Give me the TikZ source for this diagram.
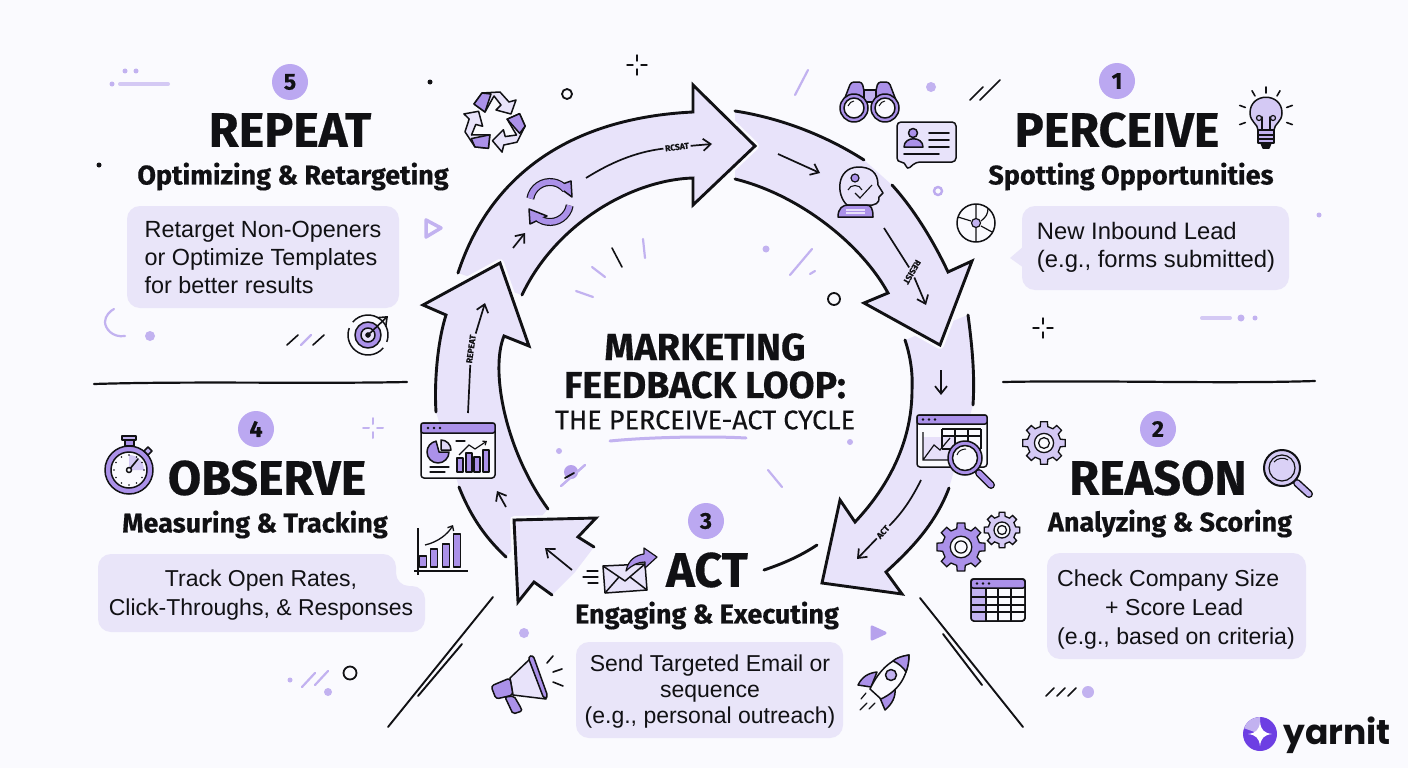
\documentclass[tikz,border=0pt]{standalone}
\usepackage{fontspec}
\setmainfont{Liberation Sans}
\newfontfamily\headfont{Fira Sans}[BoldFeatures={FakeBold=0.4}]
\newfontfamily\midfont{Fira Sans}[FakeBold=0.2]
\newfontfamily\logofont{Poppins}
\usetikzlibrary{arrows.meta}
\definecolor{bgpaper}{HTML}{FAFAFE}
\definecolor{bandlilac}{HTML}{E8E3FA}
\definecolor{boxlilac}{HTML}{E9E5F9}
\definecolor{numpurple}{HTML}{BBA8F1}
\definecolor{softpurple}{HTML}{C2B2F0}
\definecolor{iconpurple}{HTML}{AB91E9}
\definecolor{inkblack}{HTML}{111114}
\definecolor{logopurple}{HTML}{6D3FE3}
\begin{document}
\begin{tikzpicture}[x=1pt,y=-1pt,>={Straight Barb[length=7.5pt,width=12pt]},
numdot/.style={circle,fill=numpurple,text=inkblack,minimum size=36pt,inner sep=0pt,font=\headfont\bfseries\fontsize{23}{23}\selectfont},
titletxt/.style={inner sep=0pt,text=inkblack,font=\headfont\bfseries\fontsize{48.5}{48.5}\selectfont},
subtxt/.style={inner sep=0pt,text=inkblack,font=\headfont\bfseries\fontsize{27}{27}\selectfont},
boxnode/.style={fill=boxlilac,rounded corners=13pt,inner sep=0pt,text=inkblack,font=\fontsize{23.4}{28}\selectfont},
boxtxt/.style={inner sep=0pt,text=inkblack,font=\fontsize{23.1}{29}\selectfont},
looplbl/.style={inner sep=1.5pt,text=inkblack,font=\headfont\bfseries\fontsize{8.5}{8.5}\selectfont},
loopline/.style={draw=inkblack,line width=2.9pt,line cap=round,line join=miter},
thinarrow/.style={draw=inkblack,line width=1.7pt},
halo/.style={draw=bgpaper,line width=8pt,line join=round},
icon/.style={draw=inkblack,line width=1.5pt,line join=round},
softline/.style={draw=softpurple,line width=2.2pt,line cap=round},
inkline/.style={draw=inkblack,line width=1.6pt,line cap=round},
gearicon/.pic={
\filldraw[pic actions] (-13:14pt) \foreach \a in {0,45,...,315}{-- (\a-13:14pt) -- (\a-9:18pt) -- (\a+9:18pt) -- (\a+13:14pt)} -- cycle;
\filldraw[draw=inkblack,line width=1.3pt,fill=bgpaper] (0,0) circle (8pt);
\draw[inkblack,line width=1.3pt] (0,0) circle (4.5pt);
},
sparkle/.pic={
\foreach \a in {0,90,180,270} \draw[pic actions,line cap=round] (\a:4pt) -- (\a:10pt);
}]
\useasboundingbox (0,0) rectangle (1408,768);
\fill[bgpaper] (0,0) rectangle (1408,768);

\fill[bandlilac] (968,315) .. controls (972,345) and (975,375) .. (973,405) -- (949,488) .. controls (935,525) and (910,550) .. (886,572) -- (902,594) -- (822,583) -- (840,500) -- (855,522) .. controls (890,485) and (912,440) .. (912,390) .. controls (913,372) and (910,355) .. (905,340) -- cycle;
\draw[loopline] (968,315) .. controls (972,345) and (975,375) .. (973,405);
\draw[loopline] (949,488) .. controls (935,525) and (910,550) .. (886,572) -- (902,594) -- (822,583) -- (840,500) -- (855,522) .. controls (890,485) and (912,440) .. (912,390) .. controls (913,372) and (910,355) .. (905,340);

\draw[halo] (948,272) -- (972,261) -- (940,345) -- (864,303) -- (888,293);
\fill[bandlilac] (735,111) .. controls (780,118) and (825,135) .. (864,160) -- (892,185) .. controls (913,208) and (933,240) .. (948,272) -- (972,261) -- (940,345) -- (864,303) -- (888,293) .. controls (862,245) and (800,195) .. (735,179) -- cycle;
\draw[loopline] (735,111) .. controls (780,118) and (825,135) .. (864,160);
\draw[loopline] (892,185) .. controls (913,208) and (933,240) .. (948,272) -- (972,261) -- (940,345) -- (864,303) -- (888,293) .. controls (862,245) and (800,195) .. (735,179);

\draw[halo] (693,85) -- (755,146) -- (693,205) -- cycle;
\fill[bandlilac] (458,273) .. controls (490,175) and (570,118) .. (693,112) -- (693,85) -- (755,146) -- (693,205) -- (693,178) .. controls (630,180) and (555,225) .. (522,295) -- cycle;
\draw[loopline] (458,273) .. controls (490,175) and (570,118) .. (693,112) -- (693,85) -- (755,146) -- (693,205) -- (693,178) .. controls (630,180) and (555,225) .. (522,295);

\draw[halo] (446,315) -- (423,305) -- (500,263) -- (529,346) -- (504,336);
\fill[bandlilac] (446,315) .. controls (438,340) and (434,380) .. (436,412) -- (459,487) .. controls (472,520) and (488,540) .. (506,557) -- (548,509) .. controls (505,450) and (490,370) .. (504,336) -- (529,346) -- (500,263) -- (423,305) -- cycle;
\draw[loopline] (459,487) .. controls (472,520) and (488,540) .. (506,557);
\draw[loopline] (436,412) .. controls (434,380) and (438,340) .. (446,315) -- (423,305) -- (500,263) -- (529,346) -- (504,336) .. controls (490,370) and (505,450) .. (548,509);

\draw[halo] (594,547) -- (578,537) -- (596,518) -- (514,520) -- (518,602) -- (534,582) -- (552,595);
\fill[bandlilac] (514,520) -- (596,518) -- (578,537) -- (594,547) -- (575,572) -- (552,595) -- (534,582) -- (518,602) -- cycle;
\draw[loopline] (594,547) -- (578,537) -- (596,518) -- (514,520) -- (518,602) -- (534,582) -- (552,595);
\draw[loopline] (764,570) .. controls (785,563) and (802,555) .. (817,545);

\coordinate (reStart) at (468,413);
\coordinate (reEnd) at (485,303);
\node[looplbl,rotate=82] (repeatLbl) at (471,349) {REPEAT};
\draw[thinarrow] (reStart) -- (repeatLbl);
\draw[thinarrow,->] (repeatLbl) -- (reEnd);
\coordinate (rsStart) at (586,178);
\coordinate (rsEnd) at (712,144);
\node[looplbl,rotate=7] (rcsatLbl) at (677,147) {RCSAT};
\draw[thinarrow] (rsStart) .. controls (610,163) and (635,152) .. (rcsatLbl);
\draw[thinarrow,->] (rcsatLbl) -- (rsEnd);
\coordinate (dsStart) at (884,228);
\coordinate (dsEnd) at (926,305);
\node[looplbl,rotate=240] (desnLbl) at (912,272) {RESIST};
\draw[thinarrow] (dsStart) -- (desnLbl);
\draw[thinarrow,->] (desnLbl) -- (dsEnd);
\coordinate (atStart) at (921,480);
\coordinate (atEnd) at (857,559);
\node[looplbl,rotate=48] (actLbl) at (883,532) {ACT};
\draw[thinarrow] (atStart) .. controls (912,498) and (903,512) .. (actLbl);
\draw[thinarrow,->] (actLbl) -- (atEnd);
\foreach \xa/\ya/\xb/\yb in {513/248/525/233,778/154/820/173,941/370/941/395,506/507/497/491,572/570/545/548}
  \draw[thinarrow,->] (\xa,\ya) -- (\xb,\yb);

\node[numdot] (numOne) at (1117,81) {1};
\node[numdot] (numFive) at (290,82) {5};
\node[numdot] (numTwo) at (1158,429) {2};
\node[numdot] (numFour) at (256,429) {4};
\node[numdot] (numThree) at (706,521) {3};
\node[titletxt] (perceive) at (1117,130) {PERCEIVE};
\node[titletxt] (repeatT) at (290,130) {REPEAT};
\node[titletxt] (reason) at (1158,478) {REASON};
\node[titletxt] (observe) at (267,478) {OBSERVE};
\node[titletxt] (actT) at (707,570) {ACT};
\node[subtxt] (spot) at (1131,176.5) {Spotting Opportunities};
\node[subtxt] (optim) at (293,176.5) {Optimizing \& Retargeting};
\node[subtxt] (analy) at (1170,523.5) {Analyzing \& Scoring};
\node[subtxt] (measr) at (255,524.5) {Measuring \& Tracking};
\node[subtxt] (engag) at (707,615.5) {Engaging \& Executing};

\fill[boxlilac] (1024,246) -- (1010,258) -- (1024,268) -- cycle;
\node[boxnode,minimum width=267pt,minimum height=84pt,align=left] (perBox) at (1155.5,248) {};
\node[boxtxt,font=\fontsize{23.8}{28}\selectfont,align=left] (perTxt) at (1156,247) {New Inbound Lead\\(e.g., forms submitted)};
\node[boxnode,minimum width=272pt,minimum height=102pt,align=left] (repBox) at (263,257) {Retarget Non-Openers\\or Optimize Templates\\for better results};
\node[boxnode,minimum width=259pt,minimum height=106pt] (reaBox) at (1176.5,606) {};
\node[boxtxt,align=left] (reaTxt) at (1176,609.5) {Check Company Size\\\hspace*{48pt}+ Score Lead\\(e.g., based on criteria)};
\node[boxnode,minimum width=267pt,minimum height=96pt] (actBox) at (709.5,690) {};
\node[boxtxt,font=\fontsize{23}{26}\selectfont,align=center] (actTxt) at (710,691.5) {Send Targeted Email or\\sequence\\(e.g., personal outreach)};
\fill[boxlilac,rounded corners=13pt] (98,554) -- (396,554) -- (396,586) -- (425,586) -- (425,632) -- (98,632) -- cycle;
\node[boxtxt,font=\fontsize{23}{29}\selectfont,align=center] (obsBox) at (261,595) {Track Open Rates,\\Click-Throughs, \& Responses};

\node[inner sep=0pt,text=inkblack,font=\headfont\bfseries\fontsize{38}{38}\selectfont] (mkt) at (705,347) {MARKETING};
\node[inner sep=0pt,text=inkblack,font=\headfont\bfseries\fontsize{37.5}{37.5}\selectfont] (fbl) at (705,385) {FEEDBACK LOOP:};
\node[inner sep=0pt,text=inkblack,font=\midfont\fontsize{27}{27}\selectfont] (cyc) at (705,420) {THE PERCEIVE-ACT CYCLE};
\draw[softline,line width=3pt] (610,441) .. controls (650,437) and (710,436) .. (746,438);

\foreach \x/\y/\r in {125/71/2.5,136/71/2.5,112/84/2.5,150/336/5,931/87/5,1319/215/2.5,1241/318/3.5,1255/318/2.5,766/249/3.5,559/451/3,850/442/3,524/633/5,1088/692/6,290/680/2.5,328/692/4}
  \fill[softpurple] (\x,\y) circle (\r pt);
\foreach \x/\y/\r in {430/82/2.5,99/165/2.5}
  \fill[inkblack] (\x,\y) circle (\r pt);
\foreach \x/\y/\r in {567/94/5,834/299/6,350/673/6.5}
  \draw[inkblack,line width=1.8pt] (\x,\y) circle (\r pt);
\draw[softpurple!80!iconpurple,line width=2.4pt] (938,191) circle (4pt);
\foreach \xa/\ya/\xb/\yb in {120/84/168/84,1202/318/1230/318}
  \draw[softline,draw=softpurple!70,line width=4pt] (\xa,\ya) -- (\xb,\yb);
\foreach \xa/\ya/\xb/\yb in {795/95/808/70,643/239/645/258,592/267/605/277,576/291/593/297,812/249/790/275,815/271/810/274,768/470/782/487,561/486/585/465,302/687/315/673,315/685/328/671,301/345/311/335}
  \draw[softline] (\xa,\ya) -- (\xb,\yb);
\foreach \xa/\ya/\xb/\yb in {970/100/983/87,980/100/1000/80,612/248/622/267,287/345/298/335,313/345/324/335,1046/696/1054/688,1057/696/1065/688,1068/696/1076/688}
  \draw[inkline] (\xa,\ya) -- (\xb,\yb);
\draw[softline] (125,336) .. controls (112,338) and (105,328) .. (105,322) .. controls (105,316) and (110,311) .. (114,309);
\pic[draw=inkblack,line width=1.4pt] (sparkA) at (637,65) {sparkle};
\pic[draw=inkblack,line width=1.4pt] (sparkB) at (1043,328) {sparkle};
\pic[draw=softpurple,line width=2pt] (sparkC) at (373,428) {sparkle};
\draw[loopline,line width=2.2pt] (1003,382) .. controls (1100,380) and (1220,384) .. (1315,381);
\draw[loopline,line width=2.2pt] (94,384) .. controls (190,381) and (310,384) .. (407,382);
\foreach \xa/\ya/\xb/\yb in {920/598/1023/727,943/634/982/685,493/597/388/727,462/644/418/696}
  \draw[inkline,line width=1.9pt] (\xa,\ya) -- (\xb,\yb);
\filldraw[softpurple!50!iconpurple,draw=none] (571,472) circle (7pt);
\draw[softline] (561,486) -- (585,465);
\draw[inkblack,line width=1.8pt,line cap=round] (565,478) -- (574,473);
\draw[softline,line width=3.5pt,line join=round,fill=bgpaper] (426,220) -- (441,228) -- (426,237) -- cycle;
\filldraw[softpurple!50!iconpurple,draw=softpurple!50!iconpurple,line width=3pt,line join=round] (872,627) -- (885,633) -- (872,639) -- cycle;

\filldraw[icon,fill=iconpurple,rounded corners=3pt] (841,108) -- (851,82) -- (862,82) -- (868,108) -- cycle;
\filldraw[icon,fill=iconpurple,rounded corners=3pt] (872,108) -- (878,82) -- (889,82) -- (899,108) -- cycle;
\filldraw[icon,fill=softpurple] (864,90) rectangle (876,102);
\foreach \x in {854,885}{
  \filldraw[icon,fill=iconpurple] (\x,108) circle (14pt);
  \filldraw[icon,fill=bgpaper] (\x,108) circle (10pt);
  \draw[inkblack,line width=1pt] (\x-6,106) .. controls (\x-5,103) and (\x-2,101) .. (\x,101);
}
\filldraw[icon,fill=bandlilac,rounded corners=4pt] (897,122) -- (956,122) -- (956,162) -- (916,162) -- (907,170) -- (905,162) -- (897,162) -- cycle;
\filldraw[icon,fill=iconpurple] (913,133) circle (4.5pt);
\filldraw[icon,fill=iconpurple] (904,147) .. controls (904,136) and (923,136) .. (923,147) -- cycle;
\foreach \y in {133,140,147} \draw[inkline] (929,\y) -- (949,\y);
\draw[inkline] (904,154) -- (939,154);

\filldraw[icon,fill=bandlilac] (847,205) .. controls (836,195) and (836,168) .. (858,167) .. controls (870,167) and (878,172) .. (878,185) -- (883,193) -- (879,197) .. controls (880,203) and (875,206) .. (867,205) -- cycle;
\filldraw[icon,fill=iconpurple,line width=1.2pt] (855,178) circle (4pt);
\draw[inkblack,line width=1.1pt] (848,190) .. controls (850,184) and (860,184) .. (862,190) (855,193) -- (860,198) -- (872,185);
\filldraw[icon,fill=iconpurple] (838,217) .. controls (838,208) and (843,205) .. (848,205) -- (866,205) .. controls (871,205) and (873,208) .. (873,217) -- cycle;
\draw[softpurple!40,line width=1.5pt] (846,210) -- (865,210) (846,213) -- (865,213);

\draw[icon] (976,223) circle (19pt);
\filldraw[icon,fill=softpurple,line width=1.2pt] (976,223) circle (4.5pt);
\draw[inkblack,line width=1.2pt] (976,204) -- (976,218) (976,228) -- (976,242) (958,217) -- (971,221) (981,221) .. controls (986,217) and (988,214) .. (988,208) (981,226) -- (992,232);

\filldraw[icon,fill=softpurple!70] (1258,130) .. controls (1258,124) and (1250,122) .. (1250,113) .. controls (1250,92) and (1282,92) .. (1282,113) .. controls (1282,122) and (1274,124) .. (1274,130) -- cycle;
\filldraw[icon,fill=softpurple] (1258,130) rectangle (1274,143);
\filldraw[icon,fill=inkblack] (1261,143) -- (1271,143) -- (1269,148) -- (1263,148) -- cycle;
\draw[inkline] (1262,130) -- (1262,117) (1270,130) -- (1270,117) (1258,135) -- (1274,135) (1258,139) -- (1274,139);
\draw[inkblack,line width=1.2pt] (1259,118) circle (2.5pt) (1273,118) circle (2.5pt);
\foreach \a in {-20,20,60,90,120,160,200}
  \draw[inkline] (1266,115) ++(\a:22pt) -- ++(\a:6pt);

\foreach \a in {0,120,240}{
  \begin{scope}[shift={(494,122)},rotate=\a]
    \filldraw[icon,fill=bandlilac] (-20,-18) -- (-12,-29) -- (6,-30) -- (15,-20) -- (22,-22) -- (17,-8) -- (2,-12) -- (7,-17) -- (0,-26) -- (-9,-10) -- cycle;
    \filldraw[icon,fill=iconpurple] (-20,-18) -- (-12,-29) -- (-3,-28) -- (-9,-10) -- cycle;
  \end{scope}
}

\draw[inkblack,line width=8pt] (550,202) ++(170:20pt) arc[start angle=170,end angle=40,radius=20pt];
\draw[inkblack,line width=8pt] (550,202) ++(-10:20pt) arc[start angle=-10,end angle=-140,radius=20pt];
\filldraw[icon,fill=iconpurple] (557,186) -- (572,197) -- (571,181) -- cycle;
\filldraw[icon,fill=iconpurple] (529,209) -- (530,224) -- (547,216) -- cycle;
\draw[iconpurple,line width=5.6pt] (550,202) ++(170:20pt) arc[start angle=170,end angle=40,radius=20pt];
\draw[iconpurple,line width=5.6pt] (550,202) ++(-10:20pt) arc[start angle=-10,end angle=-140,radius=20pt];

\draw[icon] (368,335) ++(140:20pt) arc[start angle=140,end angle=-20,radius=20pt] (368,335) ++(-40:20pt) arc[start angle=-40,end angle=-200,radius=20pt];
\filldraw[icon,fill=iconpurple] (368,335) circle (13pt);
\filldraw[icon,fill=softpurple!40] (368,335) circle (7pt);
\filldraw[inkblack] (368,335) circle (2.5pt);
\draw[inkline,->] (368,335) -- (388,316);

\filldraw[icon,fill=iconpurple] (129,470) circle (24pt);
\filldraw[icon,fill=bgpaper] (129,470) circle (18pt);
\fill[softpurple!70] (129,470) -- (129,455) arc[start angle=90,end angle=0,radius=15pt] -- cycle;
\filldraw[icon,fill=iconpurple] (125,439) rectangle (134,446);
\filldraw[icon,fill=softpurple] (122,436) rectangle (136,440);
\filldraw[icon,fill=softpurple] (144,451) -- (148,447) -- (152,451) -- (148,455) -- cycle;
\foreach \a in {0,30,...,330} \fill[inkblack] (129,470) ++(\a:15pt) circle (.8pt);
\draw[inkline] (129,470) -- (138,459);
\filldraw[icon,fill=bgpaper] (129,470) circle (2.5pt);

\filldraw[icon,fill=bgpaper,rounded corners=3pt] (421,423) rectangle (495,478);
\filldraw[icon,fill=iconpurple,rounded corners=2pt] (421,423) rectangle (495,433);
\foreach \x in {428,434,440} \fill[inkblack] (\x,428) circle (1.4pt);
\filldraw[icon,fill=iconpurple] (439,452) -- (449,452) arc[start angle=0,end angle=-260,radius=11pt] -- cycle;
\filldraw[icon,fill=softpurple!50] (441,450) -- (441,440) arc[start angle=90,end angle=0,radius=10pt] -- cycle;
\foreach \x/\y in {460/458,469/453,477/457,486/450}
  \filldraw[icon,fill=iconpurple,line width=1.1pt] (\x-3,\y) rectangle (\x+3,472);
\draw[inkblack,line width=1.2pt,->,>={Straight Barb[length=3pt,width=5pt]}] (459,455) -- (469,445) -- (475,449) -- (487,441);
\draw[inkline,line width=1.1pt] (456,441) -- (465,441) (430,467) -- (449,467) (430,472) -- (445,472);

\filldraw[icon,fill=bgpaper,rounded corners=3pt] (917,415) rectangle (987,467);
\filldraw[icon,fill=iconpurple,rounded corners=2pt] (917,415) rectangle (987,424);
\foreach \x in {923,929,935} \fill[inkblack] (\x,419.5) circle (1.3pt);
\fill[softpurple!40] (923,437) rectangle (955,460);
\draw[inkblack,line width=1.1pt] (942,429) -- (981,429) (942,436) -- (981,436) (942,449) -- (981,449) (942,429) -- (942,449) (955,429) -- (955,449) (968,429) -- (968,449) (981,429) -- (981,449);
\draw[inkblack,line width=1.2pt] (923,432) -- (923,460) -- (955,460) (923,460) -- (934,445) -- (940,450) -- (950,438);
\draw[inkblack,line width=8pt,line cap=round] (979,473) -- (991,485);
\draw[iconpurple,line width=5pt,line cap=round] (979,473) -- (991,485);
\filldraw[icon,fill=iconpurple] (965,458) circle (17pt);
\filldraw[icon,fill=bgpaper] (965,458) circle (12.5pt);
\draw[inkblack,line width=1pt] (957,455) .. controls (958,451) and (962,449) .. (966,449);

\pic[draw=inkblack,line width=1.3pt,fill=softpurple!70,scale=1.2] (gearA) at (1044,443) {gearicon};
\pic[draw=inkblack,line width=1.3pt,fill=iconpurple,scale=1.35] (gearB) at (961,547) {gearicon};
\pic[draw=inkblack,line width=1.3pt,fill=softpurple!70,scale=1] (gearC) at (1002,530) {gearicon};
\draw[inkblack,line width=8pt,line cap=round] (1297,483) -- (1309,494);
\draw[softpurple,line width=5pt,line cap=round] (1297,483) -- (1309,494);
\filldraw[icon,fill=softpurple!70,line width=2pt] (1282,468) circle (18pt);
\filldraw[icon,line width=1.2pt,fill=softpurple!60] (1282,468) circle (13pt);
\draw[inkblack,line width=1pt] (1274,462) .. controls (1277,458) and (1284,457) .. (1288,460);

\filldraw[icon,fill=bgpaper,rounded corners=3pt] (971,579) rectangle (1025,621);
\fill[softpurple] (971,588) rectangle (986,621);
\filldraw[icon,fill=iconpurple,rounded corners=2pt] (971,579) rectangle (1025,588);
\foreach \x in {977,983,989} \fill[inkblack] (\x,583.5) circle (1.3pt);
\foreach \x in {986,998,1011} \draw[inkblack,line width=1.3pt] (\x,588) -- (\x,621);
\foreach \y in {597,605,612} \draw[inkblack,line width=1.3pt] (971,\y) -- (1025,\y);
\draw[icon,rounded corners=3pt] (971,579) rectangle (1025,621);

\draw[inkblack,line width=1.3pt] (418,528) -- (418,575) (414,571) -- (468,571);
\foreach \x/\y in {423/556,434/549,446/544,457/534}
  \filldraw[icon,fill=iconpurple,line width=1.2pt] (\x-3.5,\y) rectangle (\x+3.5,567);
\draw[inkblack,line width=1.3pt,->,>={Straight Barb[length=4pt,width=7pt]}] (425,545) .. controls (438,542) and (448,534) .. (453,525);

\foreach \xa/\xb/\y in {583/598/577,587/598/571,588/598/583}
  \draw[inkline,line width=1.2pt] (\xa,\y) -- (\xb,\y);
\filldraw[icon,fill=bandlilac] (603,566) -- (645,564) -- (647,590) -- (605,593) -- cycle;
\draw[icon] (603,566) -- (625,581) -- (645,564) (605,593) -- (619,577) (647,590) -- (630,577);
\filldraw[icon,fill=iconpurple,line width=1.2pt] (626,571) .. controls (628,560) and (636,555) .. (644,554) -- (644,548) -- (657,557) -- (645,568) -- (645,562) .. controls (638,562) and (632,565) .. (626,571) -- cycle;

\filldraw[icon,fill=bandlilac] (510,678) -- (531,658) -- (546,699) -- (513,695) -- cycle;
\filldraw[icon,fill=iconpurple,rounded corners=2pt] (505,697) -- (514,696) -- (521,708) -- (522,711) -- (513,714) -- cycle;
\filldraw[icon,fill=iconpurple,rounded corners=3pt] (491,686) -- (510,678) -- (513,695) -- (496,699) -- cycle;
\filldraw[icon,fill=iconpurple,rounded corners=3pt] (528,657) -- (533,655) -- (548,697) -- (544,699) -- cycle;
\draw[inkline] (547,663) -- (553,656) (553,672) -- (562,669) (553,682) -- (563,686);

\filldraw[icon,fill=iconpurple] (858,685) .. controls (862,677) and (868,673) .. (877,672) -- (871,687) -- cycle;
\filldraw[icon,fill=iconpurple] (885,710) .. controls (892,704) and (896,697) .. (895,688) -- (880,698) -- cycle;
\filldraw[icon,fill=bgpaper] (909,655) .. controls (893,658) and (880,668) .. (870,689) -- (881,699) .. controls (900,690) and (908,675) .. (909,655) -- cycle;
\filldraw[icon,fill=iconpurple] (909,655) .. controls (902,656) and (896,658) .. (893,661) .. controls (898,663) and (904,668) .. (906,672) .. controls (908,667) and (909,661) .. (909,655) -- cycle;
\filldraw[icon,fill=softpurple] (891,675) circle (5.5pt);
\draw[inkline,line width=1.2pt] (860,710) -- (867,703) (869,709) -- (875,703) (861,699) -- (866,693);

\fill[logopurple] (1260,734) circle (17pt);
\fill[softpurple] (1260,734) ++(90:17pt) arc[start angle=90,end angle=160,radius=17pt] -- (1260,734) -- cycle;
\fill[white] (1260,722) .. controls (1261,730) and (1264,733) .. (1272,734) .. controls (1264,735) and (1261,738) .. (1260,746) .. controls (1259,738) and (1256,735) .. (1248,734) .. controls (1256,733) and (1259,730) .. (1260,722) -- cycle;
\node[inner sep=0pt,text=inkblack,anchor=base west,font=\logofont\bfseries\fontsize{34.5}{34.5}\selectfont] (yarnit) at (1283,744) {yarnit};
\end{tikzpicture}
\end{document}
